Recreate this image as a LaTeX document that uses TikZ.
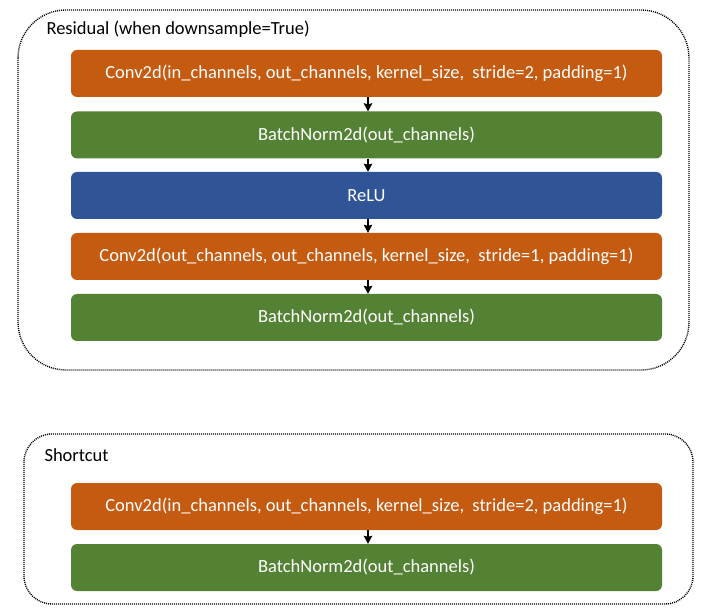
\documentclass[tikz,border=0pt]{standalone}
\usepackage{fontspec}
\setmainfont{Carlito}
\usepackage{xcolor}
\usetikzlibrary{arrows.meta}
\definecolor{convorange}{HTML}{C55A11}
\definecolor{bngreen}{HTML}{548235}
\definecolor{relublue}{HTML}{2F5597}

\begin{document}
\begin{tikzpicture}[>={Stealth[length=8pt,width=8.5pt,inset=1pt]}, x=1pt, y=-1pt,
  layer/.style={rounded corners=6pt, minimum width=591pt, minimum height=47pt,
    text=white, inner sep=0pt, font=\fontsize{18.5}{22}\selectfont},
  group/.style={draw, line width=1.4pt, dash pattern=on 1pt off 1pt},
  flow/.style={->, line width=1.6pt}]
  \useasboundingbox (0,0) rectangle (707,612);
  % residual branch
  \draw[group, rounded corners=48pt] (18,10) rectangle (689,370);
  \node[anchor=west, font=\fontsize{18.5}{22}\selectfont] (restitle) at (43,29) {Residual (when downsample=True)};
  \node[layer, fill=convorange] (conva) at (366.5,73.5) {Conv2d(in\_channels, out\_channels, kernel\_size,\ \ stride=2, padding=1)};
  \node[layer, fill=bngreen] (bna) at (366.5,135) {BatchNorm2d(out\_channels)};
  \node[layer, fill=relublue] (relu) at (366.5,195.5) {ReLU};
  \node[layer, fill=convorange] (convb) at (366.5,256.5) {Conv2d(out\_channels, out\_channels, kernel\_size,\ \ stride=1, padding=1)};
  \node[layer, fill=bngreen] (bnb) at (366.5,317.5) {BatchNorm2d(out\_channels)};
  \draw[flow] ([xshift=1.5pt]conva.south) -- ([xshift=1.5pt]bna.north);
  \draw[flow] ([xshift=1.5pt]bna.south) -- ([xshift=1.5pt]relu.north);
  \draw[flow] ([xshift=1.5pt]relu.south) -- ([xshift=1.5pt]convb.north);
  \draw[flow] ([xshift=1.5pt]convb.south) -- ([xshift=1.5pt]bnb.north);
  % shortcut branch
  \draw[group, rounded corners=28pt] (24,434) rectangle (693,604);
  \node[anchor=west, font=\fontsize{18.5}{22}\selectfont] (sctitle) at (41,455) {Shortcut};
  \node[layer, fill=convorange] (convsc) at (366.5,506.5) {Conv2d(in\_channels, out\_channels, kernel\_size,\ \ stride=2, padding=1)};
  \node[layer, fill=bngreen] (bnsc) at (366.5,567.5) {BatchNorm2d(out\_channels)};
  \draw[flow] ([xshift=1.5pt]convsc.south) -- ([xshift=1.5pt]bnsc.north);
\end{tikzpicture}
\end{document}
